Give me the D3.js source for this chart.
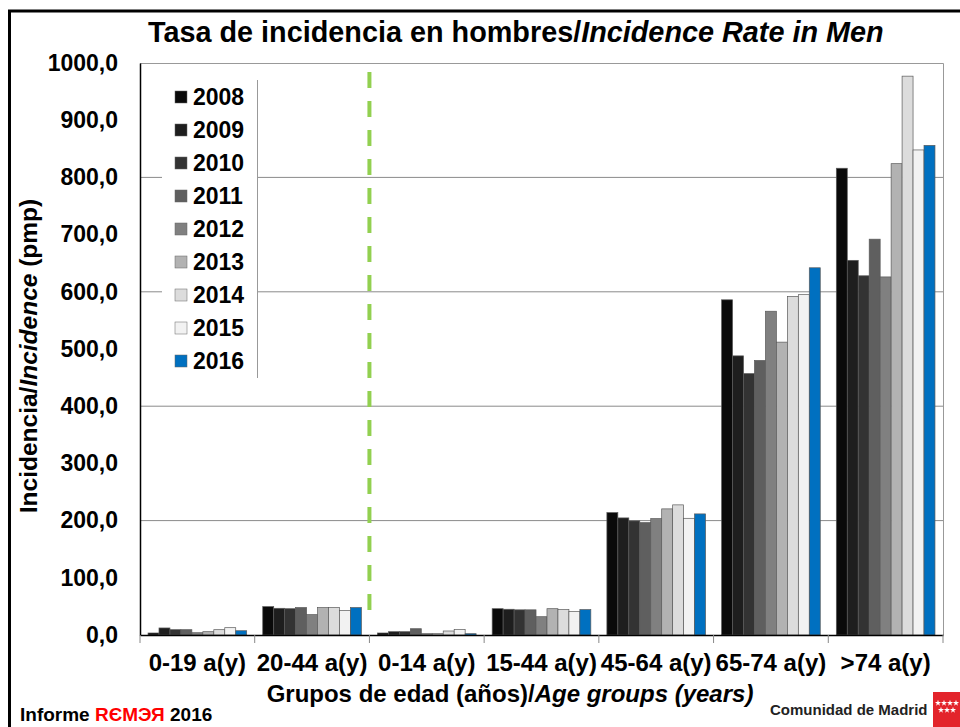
<!DOCTYPE html>
<html>
<head>
<meta charset="utf-8">
<script src="https://cdn.jsdelivr.net/npm/d3@7"></script>
<style>
  body { margin: 0; background: #fff; }
  svg { display: block; font-family: "Liberation Sans", Arial, sans-serif; font-weight: bold; }
</style>
</head>
<body>
<div id="chart"></div>
<script>
// age groups along the x axis
var categories = ["0-19 a(y)", "20-44 a(y)", "0-14 a(y)", "15-44 a(y)", "45-64 a(y)", "65-74 a(y)", ">74 a(y)"];
var years = ["2008", "2009", "2010", "2011", "2012", "2013", "2014", "2015", "2016"];
var yearColors = ["#0a0a0a", "#1e1e1e", "#333333", "#5f5f5f", "#808080", "#b2b2b2", "#dcdcdc", "#f2f2f2", "#0070c0"];

// incidence (pmp), one list per year, same order as categories
var v2008 = [3.5, 49.6, 3.5, 46, 214, 586, 816];
var v2009 = [12.3, 46.7, 5.8, 45, 204.7, 488, 655];
var v2010 = [9.3, 46, 5.8, 44, 199.5, 457, 628];
var v2011 = [9.3, 48, 11, 44, 196.5, 480, 692];
var v2012 = [4, 35.6, 2.3, 32, 203.5, 566, 626];
var v2013 = [5.8, 48, 2.3, 46, 220.5, 512, 824];
var v2014 = [9.3, 48, 7, 44.4, 227.5, 592, 977];
var v2015 = [12.8, 43, 9.8, 41, 204, 595, 848];
var v2016 = [7.5, 48, 2.3, 44.4, 211.7, 642, 856];
var series = [v2008, v2009, v2010, v2011, v2012, v2013, v2014, v2015, v2016];

var yTicks = [0, 100, 200, 300, 400, 500, 600, 700, 800, 900, 1000];
var gridValues = [200, 400, 600, 800];

var W = 960, H = 727;
var plot = {left: 140, right: 943, top: 63, bottom: 635};

var svg = d3.select("#chart").append("svg")
    .attr("width", W)
    .attr("height", H);

// slide frame
svg.append("path")
    .attr("d", "M9.5,727 L9.5,11 L960,11")
    .attr("fill", "none")
    .attr("stroke", "#000")
    .attr("stroke-width", 3);

var x = d3.scaleBand()
    .domain(categories)
    .range([plot.left, plot.right])
    .paddingInner(0.14)
    .paddingOuter(0.07);

var x1 = d3.scaleBand()
    .domain(years)
    .range([0, x.bandwidth()]);

var y = d3.scaleLinear()
    .domain([0, 1000])
    .range([plot.bottom, plot.top]);

// gridlines
svg.append("g").selectAll("line")
    .data(gridValues)
    .join("line")
    .attr("x1", plot.left).attr("x2", plot.right)
    .attr("y1", function(d){ return y(d); })
    .attr("y2", function(d){ return y(d); })
    .attr("stroke", "#8a8a8a")
    .attr("stroke-width", 1);

// plot area top / right border
svg.append("path")
    .attr("d", "M" + plot.left + "," + (y(1000) + 0.5) + " L" + (plot.right + 0.5) + "," + (y(1000) + 0.5) + " L" + (plot.right + 0.5) + "," + plot.bottom)
    .attr("fill", "none")
    .attr("stroke", "#999")
    .attr("stroke-width", 1);

// bars
var groups = svg.append("g").selectAll("g")
    .data(years)
    .join("g")
    .attr("fill", function(d, i){ return yearColors[i]; });

groups.selectAll("rect")
    .data(function(yr, i){ return series[i].map(function(v, j){ return {cat: categories[j], yr: yr, v: v}; }); })
    .join("rect")
    .attr("x", function(d){ return x(d.cat) + x1(d.yr); })
    .attr("y", function(d){ return y(d.v); })
    .attr("width", x1.bandwidth())
    .attr("height", function(d){ return y(0) - y(d.v); })
    .attr("stroke", "#5a5a5a")
    .attr("stroke-width", 0.7);

// green separator
svg.append("line")
    .attr("x1", x(categories[2]) - x.step() * 0.07)
    .attr("x2", x(categories[2]) - x.step() * 0.07)
    .attr("y1", 72).attr("y2", 613)
    .attr("stroke", "#92d050")
    .attr("stroke-width", 4)
    .attr("stroke-dasharray", "16,13");

// y axis
var yAxis = svg.append("g")
    .attr("transform", "translate(" + plot.left + ",0)")
    .call(d3.axisLeft(y).tickValues(yTicks).tickSize(0).tickPadding(22)
        .tickFormat(function(d){ return d3.format(".1f")(d).replace(".", ","); }));
yAxis.select(".domain").attr("stroke", "#000").attr("stroke-width", 1.5);
yAxis.selectAll("text")
    .attr("font-size", 23)
    .attr("font-weight", "bold")
    .attr("font-family", "Liberation Sans, Arial, sans-serif")
    .attr("fill", "#000");

// x axis with separators between groups
var xAxis = svg.append("g")
    .attr("transform", "translate(0," + plot.bottom + ")")
    .call(d3.axisBottom(x).tickSize(0).tickPadding(19));
xAxis.select(".domain").attr("stroke", "#000").attr("stroke-width", 1.5);
xAxis.selectAll("text")
    .attr("font-size", 24)
    .attr("font-weight", "bold")
    .attr("font-family", "Liberation Sans, Arial, sans-serif")
    .attr("fill", "#000");

var bounds = categories.map(function(c){ return x(c) - x.step() * 0.07; });
bounds.push(plot.right);
svg.append("g").selectAll("line")
    .data(bounds)
    .join("line")
    .attr("x1", function(d){ return d; }).attr("x2", function(d){ return d; })
    .attr("y1", plot.bottom).attr("y2", plot.bottom + 8)
    .attr("stroke", "#888");

// legend
var legend = svg.append("g");
legend.append("rect")
    .attr("x", 162).attr("y", 80).attr("width", 95).attr("height", 298)
    .attr("fill", "#fff");
legend.append("line")
    .attr("x1", 257.5).attr("x2", 257.5).attr("y1", 80).attr("y2", 378)
    .attr("stroke", "#999");
var items = legend.selectAll("g.item")
    .data(years)
    .join("g")
    .attr("class", "item")
    .attr("transform", function(d, i){ return "translate(0," + (97 + i * 33) + ")"; });
items.append("rect")
    .attr("x", 175).attr("y", -6).attr("width", 12).attr("height", 12)
    .attr("fill", function(d, i){ return yearColors[i]; })
    .attr("stroke", "#666").attr("stroke-width", 0.5);
items.append("text")
    .attr("x", 193).attr("y", 8)
    .attr("font-size", 23)
    .text(function(d){ return d; });

// title
var title = svg.append("text")
    .attr("x", 148).attr("y", 42)
    .attr("font-size", 28.8);
title.append("tspan").text("Tasa de incidencia en hombres/");
title.append("tspan").attr("font-style", "italic").text("Incidence Rate in Men");

// axis titles
var xt = svg.append("text")
    .attr("x", 510).attr("y", 702)
    .attr("text-anchor", "middle")
    .attr("font-size", 24);
xt.append("tspan").text("Grupos de edad (años)/");
xt.append("tspan").attr("font-style", "italic").text("Age groups (years)");

var yt = svg.append("text")
    .attr("transform", "translate(37,356) rotate(-90)")
    .attr("text-anchor", "middle")
    .attr("font-size", 24.5);
yt.append("tspan").text("Incidencia/");
yt.append("tspan").attr("font-style", "italic").text("Incidence");
yt.append("tspan").text(" (pmp)");

// footer
var foot = svg.append("text")
    .attr("x", 20).attr("y", 721)
    .attr("font-size", 19);
foot.append("tspan").text("Informe ");
foot.append("tspan").attr("fill", "#ff0000").text("RЄMЭЯ");
foot.append("tspan").text(" 2016");

svg.append("text")
    .attr("x", 770).attr("y", 715)
    .attr("font-size", 15)
    .attr("font-weight", 900)
    .attr("fill", "#222")
    .text("Comunidad de Madrid");

svg.append("rect")
    .attr("x", 933).attr("y", 692).attr("width", 27).attr("height", 35)
    .attr("fill", "#e3242b");
var stars = [[938, 703], [944, 703], [950, 703], [956, 703], [941, 710], [947, 710], [953, 710]];
svg.append("g").selectAll("path")
    .data(stars)
    .join("path")
    .attr("transform", function(d){ return "translate(" + d[0] + "," + d[1] + ")"; })
    .attr("d", d3.symbol(d3.symbolStar, 12))
    .attr("fill", "#fff");
</script>
</body>
</html>
